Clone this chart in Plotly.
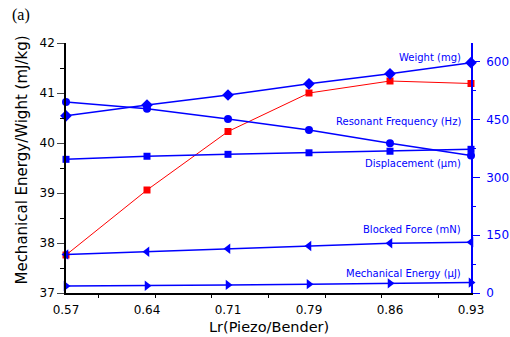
import plotly.graph_objects as go

# ---- data ----
lr_labels = ["0.57", "0.64", "0.71", "0.79", "0.86", "0.93"]
lr = [4/7, 9/14, 5/7, 11/14, 6/7, 13/14]          # Lr(Piezo/Bender)
energy_per_weight = [37.76, 39.06, 40.23, 41.00, 41.24, 41.19]   # mJ/kg (left)
weight = [460, 488, 514, 543, 569, 598]                         # mg (right)
resonant_freq = [496, 478, 452, 423, 389, 357]                  # Hz (right)
displacement = [347, 355, 360, 364, 368, 373]                   # um (right)
blocked_force = [100, 107, 115, 122, 129, 132]                  # mN (right)
mech_energy = [18, 19, 21, 23, 25, 27]                          # uJ (right)

BLUE = "#0000ff"
RED = "#ff0000"
FONT = "DejaVu Sans"

fig = go.Figure()

def blue_trace(y, symbol, size):
    return go.Scatter(x=lr, y=y, yaxis="y2", mode="lines+markers",
                      line=dict(color=BLUE, width=1.5),
                      marker=dict(symbol=symbol, size=size, color=BLUE),
                      showlegend=False, cliponaxis=False)

fig.add_trace(blue_trace(weight, "diamond", 9))
fig.add_trace(blue_trace(resonant_freq, "circle", 8))
fig.add_trace(blue_trace(displacement, "square", 7))
fig.add_trace(blue_trace(blocked_force, "triangle-left", 9))
fig.add_trace(blue_trace(mech_energy, "triangle-right", 9))
fig.add_trace(go.Scatter(x=lr, y=energy_per_weight, mode="lines+markers",
                         line=dict(color=RED, width=1),
                         marker=dict(symbol="square", size=7, color=RED),
                         showlegend=False, cliponaxis=False))

minor_x = [0.60, 0.65, 0.70, 0.75, 0.80, 0.85, 0.90]

fig.update_layout(
    width=510, height=337,
    margin=dict(l=66, r=39, t=43, b=44),
    paper_bgcolor="white", plot_bgcolor="white",
    font=dict(family=FONT, size=12, color="black"),
    xaxis=dict(range=[lr[0], lr[-1]], tickmode="array", tickvals=lr, ticktext=lr_labels,
               ticks="outside", ticklen=5, tickcolor="rgba(0,0,0,0)", automargin=False,
               minor=dict(tickmode="array", tickvals=minor_x, ticks="outside",
                          ticklen=3, tickcolor="black", showgrid=False),
               showgrid=False, zeroline=False, showline=True, linecolor="black",
               linewidth=1.5, tickfont=dict(size=12)),
    xaxis2=dict(range=[lr[0], lr[-1]], overlaying="x", side="top", anchor="y",
                tickmode="array", tickvals=minor_x, ticks="inside", ticklen=2,
                automargin=False,
                showticklabels=False, showgrid=False, zeroline=False,
                showline=True, linecolor="black", linewidth=1.5),
    yaxis=dict(range=[37, 42], dtick=1, ticks="outside", ticklen=7, automargin=False,
               minor=dict(dtick=0.5, ticks="outside", ticklen=4, tickcolor="black"),
               showgrid=False, zeroline=False, showline=True, linecolor="black",
               linewidth=1.5, tickfont=dict(size=12)),
    yaxis2=dict(range=[0, 649], tickmode="array", tickvals=[0, 150, 300, 450, 600],
                overlaying="y", side="right", ticks="outside", ticklen=7,
                ticklabelstandoff=4, automargin=False,
                tickcolor=BLUE, minor=dict(tickmode="array", tickvals=[75, 225, 375, 525],
                                           ticks="outside", ticklen=3, tickcolor=BLUE),
                showgrid=False, zeroline=False, showline=True, linecolor=BLUE,
                linewidth=1.5, tickfont=dict(size=12, color=BLUE)),
)

annos = [
    ("Weight (mg)", 0.944),
    ("Resonant Frequency (Hz)", 0.684),
    ("Displacement (\u03bcm)", 0.52),
    ("Blocked Force (mN)", 0.256),
    ("Mechanical Energy (\u03bcJ)", 0.08),
]
for txt, yp in annos:
    fig.add_annotation(text=txt, xref="paper", yref="paper", x=0.98, y=yp,
                       xanchor="right", yanchor="middle", showarrow=False,
                       font=dict(family=FONT, size=10, color=BLUE))

fig.add_annotation(text="Mechanical Energy/Wight (mJ/kg)", xref="paper", yref="paper",
                   x=-0.111, y=0.53, textangle=-90, showarrow=False,
                   xanchor="center", yanchor="middle",
                   font=dict(family=FONT, size=15, color="black"))
fig.add_annotation(text="Lr(Piezo/Bender)", xref="paper", yref="paper",
                   x=0.5, y=-0.134, showarrow=False,
                   xanchor="center", yanchor="middle",
                   font=dict(family=FONT, size=14.5, color="black"))
fig.add_annotation(text="(a)", xref="paper", yref="paper", x=-0.111, y=1.112,
                   showarrow=False, xanchor="center", yanchor="middle",
                   font=dict(family="Liberation Serif", size=16, color="black"))

fig.write_html("out.html")
